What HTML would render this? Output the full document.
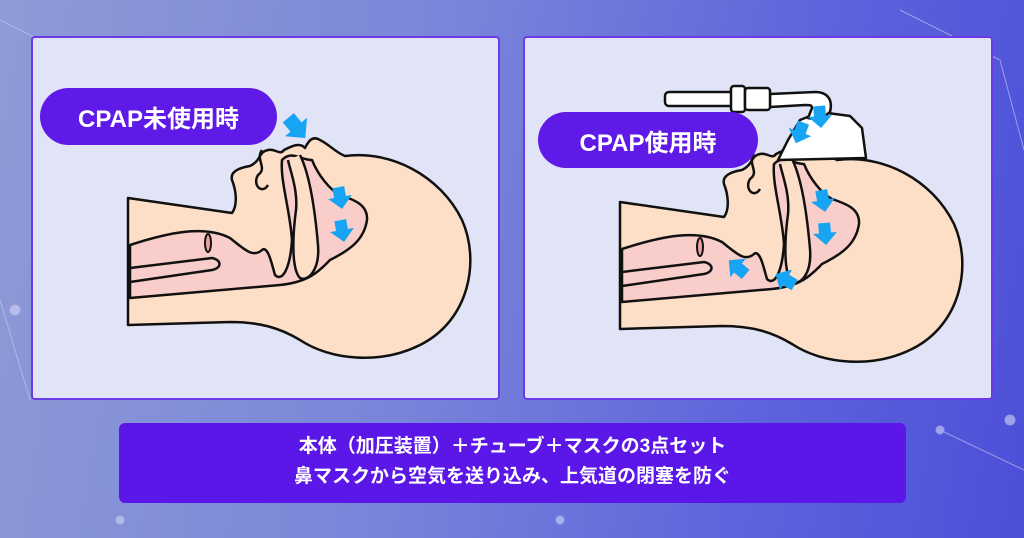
<!DOCTYPE html>
<html><head><meta charset="utf-8"><style>
html,body{margin:0;padding:0;width:1024px;height:538px;overflow:hidden}
body{background:linear-gradient(100deg,#8f9ad6 0%,#7a86d9 40%,#5d63dc 75%,#4d4fd8 100%);position:relative;font-family:"Liberation Sans","Noto Sans CJK JP",sans-serif}
.panel{position:absolute;background:#e1e4f6;border:2px solid #6a3ce6;border-radius:4px;box-sizing:border-box}
.pill{position:absolute;background:#5f1ae8;color:#fff;font-weight:bold;font-size:24px;display:flex;align-items:center;justify-content:center;border-radius:30px}
.banner{position:absolute;left:119px;top:423px;width:787px;height:80px;background:#5b16e8;border-radius:6px;color:#fff;font-weight:bold;font-size:19px;text-align:center;line-height:30px;padding-top:9px;box-sizing:border-box}
svg{position:absolute;left:0;top:0}
</style></head><body>
<svg width="1024" height="538">
<g stroke="#c9cdf0" stroke-width="1" opacity="0.6" fill="#d6d9f3">
<line x1="0" y1="20" x2="80" y2="60"/><line x1="900" y1="10" x2="1000" y2="60"/><line x1="1000" y1="60" x2="1024" y2="150"/><line x1="0" y1="300" x2="30" y2="400"/><line x1="940" y1="430" x2="1024" y2="470"/>
<circle cx="1010" cy="420" r="5"/><circle cx="15" cy="310" r="5"/><circle cx="940" cy="430" r="4"/><circle cx="560" cy="520" r="4"/><circle cx="120" cy="520" r="4"/>
</g>
</svg>
<div class="panel" style="left:31px;top:36px;width:469px;height:364px"></div>
<div class="panel" style="left:523px;top:36px;width:470px;height:364px"></div>
<svg width="1024" height="538">
<defs>
<g id="head">
<path d="M128,198 L232,213 C238,205 236,190 232,180 C230,172 238,168 250,166 C262,160 258,152 268,150 C275,148 280,156 284,150 C292,146 300,142 305,148 C308,142 312,135 320,140 C330,145 335,152 345,156 C390,150 440,175 462,220 C480,260 470,320 420,345 C380,365 330,360 300,340 C280,328 260,322 230,322 L128,325 Z" fill="#fddfc7" stroke="#111" stroke-width="2.5" stroke-linejoin="round"/>
<path d="M130,245 C170,232 205,225 230,238 C245,250 253,258 262,250 C268,245 272,265 275,275 C282,282 290,270 292,240 C290,210 280,180 282,160 C292,150 300,160 312,160 C318,175 330,190 340,195 C355,200 368,205 367,220 C364,240 350,250 330,260 C320,270 310,282 280,285 L130,298 Z" fill="#f8cdca" stroke="#111" stroke-width="2.5" stroke-linejoin="round"/>
<path d="M300,155 C310,175 315,210 318,245 C320,270 308,282 300,278 C292,270 292,240 296,210 C298,190 290,170 288,160" fill="#fddfc7" stroke="#111" stroke-width="2.5"/>
<path d="M130,268 L212,258 C222,260 222,268 212,270 L130,282" fill="none" stroke="#111" stroke-width="2.5"/>
<ellipse cx="208" cy="243" rx="3" ry="9" fill="#f0a0a0" stroke="#111" stroke-width="2"/>
<path d="M262,150 C255,160 268,168 258,175 C252,185 262,195 268,185" fill="none" stroke="#111" stroke-width="2.5"/>
</g>
<polygon id="arr" points="-6,-10 6,-10 6,0 12,0 0,12 -12,0 -6,0" fill="#17a4f3"/>
</defs>
<use href="#head"/>
<use href="#head" transform="translate(492,4)"/>
<use href="#arr" transform="translate(296,127) rotate(-40) scale(1.2)"/>
<use href="#arr" transform="translate(340,197) rotate(-10)"/>
<use href="#arr" transform="translate(342,230) rotate(-10)"/>
<use href="#arr" transform="translate(823,200) rotate(-10)"/>
<use href="#arr" transform="translate(825,233) rotate(-5)"/>
<use href="#arr" transform="translate(738,268) rotate(130)"/>
<use href="#arr" transform="translate(786,280) rotate(120)"/>
<!-- CPAP mask -->
<path d="M800,120 L820,112 L850,116 L862,128 L866,158 L778,160 L788,140 Z" fill="#fff" stroke="#111" stroke-width="2.5" stroke-linejoin="round"/>
<!-- elbow pipe -->
<path d="M770,94 L815,92 C828,92 833,100 830,112 L820,120 L808,118 L812,108 C812,105 810,105 805,105 L770,107 Z" fill="#fff" stroke="#111" stroke-width="2.5" stroke-linejoin="round"/>
<!-- tube -->
<rect x="665" y="92" width="80" height="14" rx="4" fill="#fff" stroke="#111" stroke-width="2.5"/>
<rect x="731" y="86" width="14" height="26" rx="3" fill="#fff" stroke="#111" stroke-width="2.5"/>
<rect x="745" y="88" width="25" height="22" rx="3" fill="#fff" stroke="#111" stroke-width="2.5"/>
<use href="#arr" transform="translate(820,116) rotate(-5)"/>
<use href="#arr" transform="translate(800,132) rotate(20)"/>
</svg>
<div class="pill" style="left:40px;top:88px;width:237px;height:57px">CPAP未使用時</div>
<div class="pill" style="left:538px;top:112px;width:220px;height:56px">CPAP使用時</div>
<div class="banner">本体（加圧装置）＋チューブ＋マスクの3点セット<br>鼻マスクから空気を送り込み、上気道の閉塞を防ぐ</div>
</body></html>
